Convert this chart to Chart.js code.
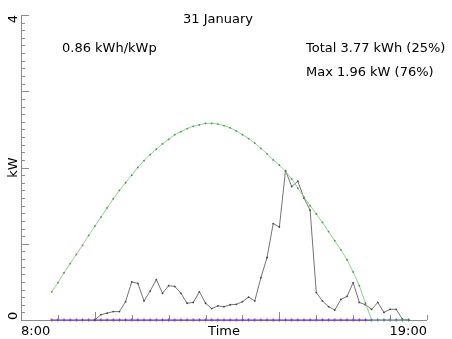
<!DOCTYPE html>
<html>
<head>
<meta charset="utf-8">
<script src="https://cdn.jsdelivr.net/npm/chart.js@4/dist/chart.umd.min.js"></script>
<style>
html,body{margin:0;padding:0;background:#fff;}
canvas{display:block;}
</style>
</head>
<body>
<canvas id="c" width="452" height="339"></canvas>
<script>
// ---- data ----
const times = ['8:50','9:00','9:10','9:20','9:30','9:40','9:50',
 '10:00','10:10','10:20','10:30','10:40','10:50',
 '11:00','11:10','11:20','11:30','11:40','11:50',
 '12:00','12:10','12:20','12:30','12:40','12:50',
 '13:00','13:10','13:20','13:30','13:40','13:50',
 '14:00','14:10','14:20','14:30','14:40','14:50',
 '15:00','15:10','15:20','15:30','15:40','15:50',
 '16:00','16:10','16:20','16:30','16:40','16:50',
 '17:00','17:10','17:20','17:30','17:40','17:50',
 '18:00','18:10','18:20','18:30'];
const clearSky = [0.37,0.49,0.62,0.74,0.86,0.98,1.11,
 1.23,1.35,1.47,1.59,1.70,1.80,
 1.90,2.00,2.09,2.17,2.24,2.31,
 2.37,2.43,2.47,2.51,2.54,2.56,
 2.58,2.58,2.57,2.55,2.52,2.48,
 2.43,2.38,2.32,2.25,2.18,2.10,
 2.03,1.95,1.85,1.73,1.61,1.50,
 1.39,1.28,1.16,1.04,0.92,0.79,
 0.63,0.45,0.22,0,0,0,
 0,0,0,0];
const actual = [null,null,null,null,null,null,null,
 0,0.07,0.09,0.11,0.11,0.24,
 0.50,0.48,0.25,0.38,0.53,0.35,
 0.45,0.44,0.35,0.22,0.23,0.37,
 0.22,0.15,0.185,0.175,0.20,0.205,
 0.24,0.30,0.25,0.555,0.82,1.265,
 1.22,1.96,1.75,1.82,1.60,1.44,
 0.36,0.25,0.175,0.13,0.27,0.31,
 0.49,0.23,0.20,0.14,0.23,0.10,
 0.14,0.14,0.01,0];
const baseline = [0,0,0,0,0,0,0,
 0,0,0,0,0,0, 0,0,0,0,0,0, 0,0,0,0,0,0, 0,0,0,0,0,0,
 0,0,0,0,0,0, 0,0,0,0,0,0, 0,0,0,0,0,0, 0,0,0,0,0,0,
 0,0,0,0];
const xTickLabels = ['8:00','19:00'];
const yTickLabels = ['0','4'];
const title = '31 January';
const leftNote = '0.86 kWh/kWp';
const rightNotes = ['Total 3.77 kWh (25%)','Max 1.96 kW (76%)'];

function toHours(s){const p=s.split(':');return (+p[0])+(+p[1])/60;}
function pts(vals){return times.map((t,i)=>({x:toHours(t),y:vals[i]}));}

const FONT = '13px "DejaVu Sans", Verdana, sans-serif';

const axesPlugin = {
  id:'axesPlugin',
  beforeDatasetsDraw(chart){
    const ctx = chart.ctx, xs = chart.scales.x, ys = chart.scales.y;
    const L = xs.left, R = xs.right, T = ys.top, B = ys.bottom;
    ctx.save();
    ctx.strokeStyle = '#8c8c8c';
    ctx.lineWidth = 1;
    ctx.beginPath();
    ctx.moveTo(L+0.5, T); ctx.lineTo(L+0.5, B+0.5);
    ctx.lineTo(R, B+0.5);
    for(let k=0;k<=40;k++){
      const y = Math.round(ys.getPixelForValue(k/10))+0.5;
      const len = (k%10===0)?8:4;
      ctx.moveTo(L, y); ctx.lineTo(L+len, y);
    }
    for(let h=9; h<=19; h++){
      const x = Math.round(xs.getPixelForValue(h))+0.5;
      const len = (h===10||h===15)?8:5;
      ctx.moveTo(x, B); ctx.lineTo(x, B-len);
    }
    ctx.stroke();
    ctx.restore();
  },
  afterDraw(chart){
    const ctx = chart.ctx, xs = chart.scales.x, ys = chart.scales.y;
    ctx.save();
    ctx.fillStyle = '#000';
    ctx.font = FONT;
    ctx.textBaseline = 'alphabetic';
    ctx.textAlign = 'left';
    ctx.fillText(xTickLabels[0], xs.getPixelForValue(8), 335);
    ctx.textAlign = 'right';
    ctx.fillText(xTickLabels[1], xs.getPixelForValue(19), 335);
    ctx.textAlign = 'center';
    ctx.fillText('Time', (xs.left+xs.right)/2, 335);
    const drawRot = (txt, y, align) => {
      ctx.save();
      ctx.translate(17, y);
      ctx.rotate(-Math.PI/2);
      ctx.textAlign = align;
      ctx.fillText(txt, 0, 0);
      ctx.restore();
    };
    drawRot(yTickLabels[0], ys.getPixelForValue(0), 'left');
    drawRot(yTickLabels[1], ys.getPixelForValue(4), 'right');
    drawRot('kW', ys.getPixelForValue(2), 'center');
    ctx.textAlign = 'center';
    ctx.fillText(title, 218, 23);
    ctx.textAlign = 'left';
    ctx.fillText(leftNote, 62, 52);
    ctx.fillText(rightNotes[0], 306, 52);
    ctx.fillText(rightNotes[1], 306, 76);
    ctx.restore();
  }
};

new Chart(document.getElementById('c'), {
  type:'line',
  data:{
    datasets:[
      {label:'clear sky', data:pts(clearSky), borderColor:'#8cd68c', borderWidth:1,
       pointRadius:0.9, pointBackgroundColor:'#3c9a3c', pointBorderColor:'#3c9a3c', pointBorderWidth:0, tension:0},
      {label:'actual', data:pts(actual), borderColor:'#757575', borderWidth:1,
       pointRadius:0.9, pointBackgroundColor:'#444', pointBorderColor:'#444', pointBorderWidth:0, tension:0, spanGaps:false},
      {label:'base', data:pts(baseline), borderColor:'#7b33e0', borderWidth:1.2,
       pointStyle:'cross', pointRadius:1.6, pointBorderColor:'#8040e0', pointBorderWidth:1, tension:0}
    ]
  },
  options:{
    responsive:false,
    animation:false,
    devicePixelRatio:1,
    layout:{padding:{left:21,right:25,top:15,bottom:19}},
    plugins:{legend:{display:false}, tooltip:{enabled:false}},
    scales:{
      x:{type:'linear', min:8, max:19, display:false},
      y:{type:'linear', min:0, max:4, display:false}
    },
    clip:false
  },
  plugins:[axesPlugin]
});
</script>
</body>
</html>
